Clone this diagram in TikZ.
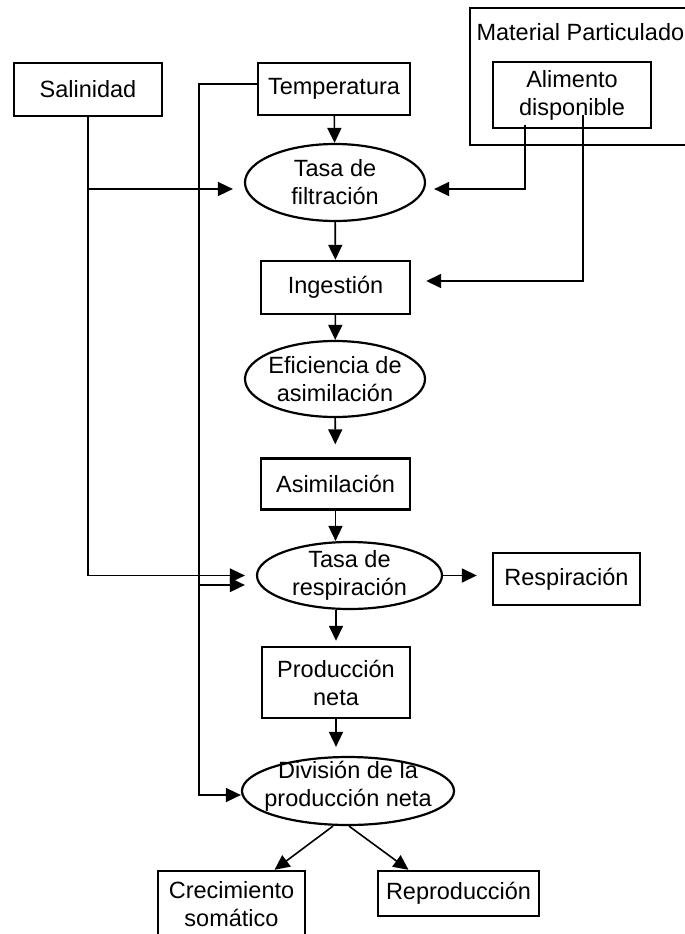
\documentclass[tikz,border=0pt]{standalone}
\usepackage{fontspec}
\setmainfont{Liberation Sans}
\usetikzlibrary{arrows.meta,shapes.geometric}

\begin{document}
\begin{tikzpicture}[x=1pt, y=-1pt,
	every node/.style={font=\fontsize{23.5}{28}\selectfont, align=center},
	box/.style={draw, line width=2.4pt, inner sep=0pt},
	oval/.style={draw, ellipse, line width=2.2pt, inner sep=0pt},
	arr/.style={line width=1.6pt, -{Triangle[length=15pt,width=14pt]}}]

\clip (0,0) rectangle (685,934);

% entradas
\node [box, minimum width=148pt, minimum height=53pt] (sal) at (88,89.5) {Salinidad};
\node [box, minimum width=152pt, minimum height=52pt] (temp) at (334,89) {Temperatura};
\node [box, minimum width=250pt, minimum height=137pt] (mat) at (595,76.5) {};
\node [anchor=west] (mattxt) at (473,32) {Material Particulado};
\node [box, minimum width=158pt, minimum height=66pt] (alim) at (572,95) {Alimento\\disponible};

% cadena central
\node [oval, minimum width=180pt, minimum height=77pt] (filt) at (335,182.5) {};
\node (filttxt) at (filt) {Tasa de\\filtración};
\node [box, minimum width=149pt, minimum height=53pt] (ing) at (335.5,287.5) {Ingestión};
\node [oval, minimum width=180pt, minimum height=76pt] (efic) at (335,379) {};
\node (efictxt) at (efic) {Eficiencia de\\asimilación};
\node [box, minimum width=149pt, minimum height=51pt] (asim) at (335.5,484) {Asimilación};
\node [oval, minimum width=185pt, minimum height=67pt] (resp) at (349.5,575.5) {};
\node (resptxt) at (resp) {Tasa de\\respiración};
\node [box, minimum width=147pt, minimum height=52pt] (respout) at (566.5,579) {Respiración};
\node [box, minimum width=148pt, minimum height=71pt] (prod) at (336,682.5) {Producción\\neta};
\node [oval, minimum width=212pt, minimum height=68pt] (div) at (348,791) {};
\node (divtxt) at ([yshift=5pt]div) {División de la\\producción neta};
\node [box, minimum width=147pt, minimum height=66pt] (crec) at (231.5,904) {Crecimiento\\somático};
\node [box, minimum width=161pt, minimum height=45pt] (repr) at (458.5,893.5) {Reproducción};

\coordinate (salj) at (sal.south |- 0,189);
\coordinate (tj) at (199,585);
\coordinate (a1) at (525,125);
\coordinate (a2) at (583,115);

% conexiones
\draw [arr, shorten >=11pt] (sal.south) |- (resp.west);
\draw [arr, shorten >=11pt] (salj) -- (filt.west |- salj);
\draw [arr] ([yshift=5pt]temp.west) -| (tj) |- ([yshift=-4pt]div.west);
\draw [arr, shorten >=11pt] (tj) -- (resp.west |- tj);
\draw [arr] (temp) -- (filt);
\draw [arr, shorten >=8pt] (a1) |- (filt.east |- salj);
\draw [arr, shorten >=15pt] (a2) |- ([yshift=6.5pt]ing.east);
\draw [arr] (filt) -- (ing);
\draw [arr] (ing) -- (efic);
\draw [arr, shorten >=13pt] (efic) -- (asim);
\draw [arr] (asim.south) -- (asim.south |- resp.north);
\draw [arr, shorten >=15pt] (resp.east) -- (respout.west |- resp.east);
\draw [arr, shorten >=5pt] (prod.north |- resp.south) -- (prod.north);
\draw [arr, shorten >=9pt] (prod.south) -- (prod.south |- div.north);
\draw [arr] ([xshift=-15pt]div.south) -- ([xshift=43pt]crec.north);
\draw [arr] ([xshift=1pt]div.south) -- ([xshift=-50pt]repr.north);

\end{tikzpicture}
\end{document}
